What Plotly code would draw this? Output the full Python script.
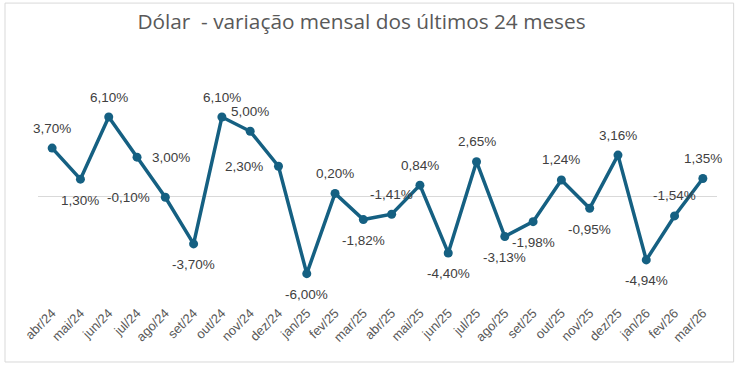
import plotly.graph_objects as go

months = ["abr/24", "mai/24", "jun/24", "jul/24", "ago/24", "set/24", "out/24", "nov/24",
          "dez/24", "jan/25", "fev/25", "mar/25", "abr/25", "mai/25", "jun/25", "jul/25",
          "ago/25", "set/25", "out/25", "nov/25", "dez/25", "jan/26", "fev/26", "mar/26"]
values = [3.70, 1.30, 6.10, 3.00, -0.10, -3.70, 6.10, 5.00, 2.30, -6.00, 0.20, -1.82,
          -1.41, 0.84, -4.40, 2.65, -3.13, -1.98, 1.24, -0.95, 3.16, -4.94, -1.54, 1.35]
label_pos = ["above", "below", "above", "right", "left", "below", "above", "above",
             "left", "below", "above", "below", "above", "above", "below", "above",
             "below", "below", "above", "below", "above", "below", "above", "above"]

LINE = "#156082"
TXT = "#404040"

fig = go.Figure()
fig.add_trace(go.Scatter(
    x=months, y=values, mode="lines+markers",
    line=dict(color=LINE, width=3.5),
    marker=dict(color=LINE, size=9),
    hoverinfo="skip", showlegend=False, cliponaxis=False,
))

def fmt(v):
    return f"{v:.2f}".replace(".", ",") + "%"

for m, v, p in zip(months, values, label_pos):
    a = dict(x=m, y=v, text=fmt(v), showarrow=False,
             font=dict(family="Liberation Sans, Arial", size=13.5, color=TXT))
    if p == "above":
        a.update(xanchor="center", yanchor="middle", yshift=20)
    elif p == "below":
        a.update(xanchor="center", yanchor="middle", yshift=-21)
    elif p == "right":
        a.update(xanchor="left", yanchor="middle", xshift=13)
    else:
        a.update(xanchor="right", yanchor="middle", xshift=-13)
    fig.add_annotation(**a)

fig.add_shape(type="rect", xref="paper", yref="paper",
              x0=-0.0486, x1=1.0245, y0=-0.283, y1=1.41,
              line=dict(color="#d9d9d9", width=1), fillcolor="rgba(0,0,0,0)", layer="below")

fig.update_layout(
    width=740, height=369,
    margin=dict(l=38, r=23, t=90, b=67, autoexpand=False),
    paper_bgcolor="white", plot_bgcolor="white",
    title=dict(text="Dólar  - variação mensal dos últimos 24 meses",
               x=0.4885, xanchor="center", xref="container",
               y=1 - 22 / 369, yanchor="middle", yref="container",
               font=dict(family="Open Sans", size=20.8, color="#595959")),
    xaxis=dict(type="category", range=[-0.5, 23.5], tickangle=-45, showgrid=False,
               showline=False, zeroline=False, ticks="", automargin=False,
               tickfont=dict(family="Liberation Sans, Arial", size=13, color="#595959")),
    yaxis=dict(range=[-8.19, 8.19], tickvals=[0], showticklabels=False,
               showgrid=True, gridcolor="#d9d9d9", gridwidth=1, zeroline=False,
               showline=False, fixedrange=True, automargin=False),
)

fig.write_html("out.html", config={"displayModeBar": False},
               post_script="document.body.style.margin='0';")
